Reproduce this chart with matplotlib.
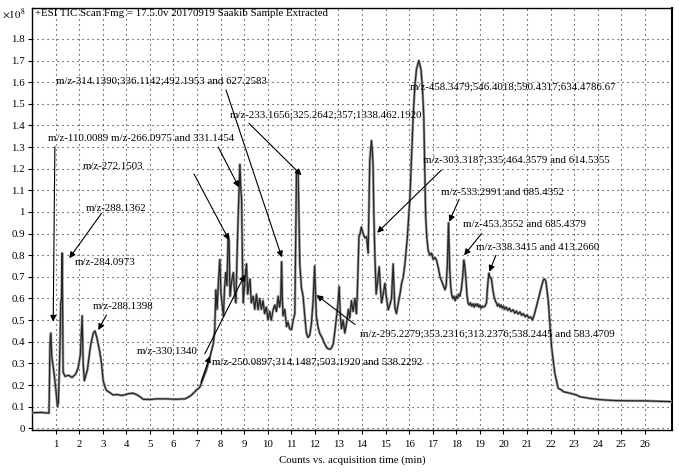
import matplotlib
matplotlib.use("Agg")
import matplotlib.pyplot as plt

plt.rcParams['font.family'] = ['Liberation Serif', 'DejaVu Serif']
plt.rcParams['mathtext.fontset'] = 'stix'

# TIC trace (time in min, counts in units of 1e8)
time_min = [0.00, 0.40, 0.72, 0.74, 0.76, 0.80, 0.84, 0.88, 0.95, 1.02, 1.08, 1.12, 1.18, 1.22, 1.25,
            1.28, 1.30, 1.32, 1.40, 1.55, 1.70, 1.85, 1.96, 2.05, 2.10, 2.13, 2.17, 2.22, 2.35, 2.48,
            2.60, 2.67, 2.75, 2.88, 2.95, 3.02, 3.10, 3.16, 3.30, 3.44, 3.60, 3.80, 3.95, 4.10, 4.29,
            4.45, 4.58, 4.72, 5.00, 5.30, 5.70, 6.10, 6.49, 6.65, 6.77, 6.98, 7.12, 7.19, 7.40, 7.55,
            7.69, 7.75, 7.80, 7.85, 7.92, 7.97, 8.02, 8.06, 8.12, 8.17, 8.22, 8.27, 8.32, 8.36, 8.40,
            8.47, 8.54, 8.60, 8.65, 8.70, 8.75, 8.80, 8.82, 8.86, 8.89, 8.93, 8.96, 9.02, 9.06, 9.10,
            9.15, 9.20, 9.25, 9.30, 9.38, 9.45, 9.52, 9.59, 9.66, 9.73, 9.80, 9.87, 9.94, 10.01, 10.08,
            10.15, 10.23, 10.30, 10.37, 10.44, 10.50, 10.55, 10.59, 10.62, 10.65, 10.72, 10.80, 10.86,
            10.93, 11.01, 11.08, 11.15, 11.19, 11.22, 11.29, 11.33, 11.36, 11.43, 11.50, 11.57, 11.64,
            11.71, 11.78, 11.85, 11.92, 11.99, 12.03, 12.06, 12.13, 12.20, 12.30, 12.42, 12.52, 12.63,
            12.70, 12.78, 12.85, 12.92, 12.98, 13.03, 13.08, 13.13, 13.20, 13.27, 13.35, 13.42, 13.48,
            13.55, 13.62, 13.70, 13.76, 13.80, 13.87, 13.92, 13.97, 14.05, 14.12, 14.19, 14.26, 14.30,
            14.33, 14.40, 14.44, 14.47, 14.50, 14.54, 14.60, 14.66, 14.73, 14.78, 14.83, 14.90, 14.97,
            15.04, 15.11, 15.18, 15.25, 15.32, 15.36, 15.39, 15.46, 15.54, 15.61, 15.68, 15.75, 15.82,
            15.92, 16.03, 16.10, 16.17, 16.24, 16.31, 16.41, 16.50, 16.56, 16.62, 16.66, 16.70, 16.75,
            16.81, 16.88, 16.95, 17.02, 17.09, 17.16, 17.24, 17.31, 17.38, 17.45, 17.52, 17.57, 17.62,
            17.67, 17.72, 17.76, 17.80, 17.85, 17.90, 17.95, 18.00, 18.05, 18.10, 18.15, 18.21, 18.27,
            18.32, 18.36, 18.40, 18.45, 18.50, 18.55, 18.60, 18.65, 18.70, 18.75, 18.80, 18.85, 18.90,
            18.95, 19.00, 19.05, 19.10, 19.14, 19.22, 19.28, 19.33, 19.38, 19.43, 19.49, 19.55, 19.60,
            19.65, 19.70, 19.75, 19.80, 19.85, 19.90, 19.95, 20.00, 20.05, 20.12, 20.18, 20.25, 20.32,
            20.41, 20.48, 20.55, 20.62, 20.70, 20.77, 20.84, 20.92, 21.00, 21.07, 21.15, 21.23, 21.32,
            21.47, 21.60, 21.69, 21.75, 21.80, 21.90, 22.04, 22.18, 22.32, 22.46, 22.55, 22.82, 23.10,
            23.24, 23.60, 23.95, 24.40, 24.80, 25.40, 25.93, 26.50, 27.13]
tic_e8 = [0.072, 0.073, 0.070, 0.20, 0.38, 0.44, 0.33, 0.30, 0.24, 0.17, 0.10, 0.12, 0.35, 0.58, 0.60,
          0.81, 0.55, 0.26, 0.24, 0.245, 0.235, 0.25, 0.28, 0.34, 0.45, 0.52, 0.30, 0.22, 0.27, 0.38,
          0.44, 0.45, 0.42, 0.35, 0.30, 0.22, 0.19, 0.175, 0.165, 0.154, 0.156, 0.152, 0.155, 0.160, 0.162,
          0.155, 0.146, 0.134, 0.133, 0.136, 0.136, 0.134, 0.136, 0.145, 0.154, 0.177, 0.19, 0.21, 0.27, 0.33,
          0.39, 0.45, 0.64, 0.55, 0.70, 0.78, 0.62, 0.58, 0.52, 0.65, 0.72, 0.66, 0.89, 0.87, 0.61,
          0.68, 0.72, 0.63, 0.58, 0.80, 0.99, 1.15, 1.22, 1.10, 1.07, 0.75, 0.58, 0.66, 0.72, 0.76,
          0.62, 0.66, 0.69, 0.58, 0.61, 0.55, 0.62, 0.548, 0.60, 0.55, 0.59, 0.53, 0.56, 0.50, 0.54,
          0.50, 0.548, 0.57, 0.54, 0.61, 0.56, 0.60, 0.77, 0.60, 0.52, 0.55, 0.47, 0.49,
          0.46, 0.455, 0.50, 0.53, 0.90, 1.19, 1.19, 0.95, 0.76, 0.65, 0.61, 0.52, 0.44,
          0.42, 0.43, 0.48, 0.58, 0.75, 0.62, 0.52, 0.47, 0.44, 0.42, 0.39, 0.37, 0.365,
          0.37, 0.39, 0.45, 0.516, 0.58, 0.655, 0.52, 0.46, 0.50, 0.44, 0.49, 0.55, 0.51,
          0.59, 0.54, 0.60, 0.53, 0.62, 0.886, 0.90, 0.93, 0.90, 0.88, 0.886, 0.81, 1.05,
          1.24, 1.33, 1.28, 1.21, 1.00, 0.82, 0.62, 0.68, 0.747, 0.65, 0.58, 0.62, 0.67,
          0.60, 0.548, 0.57, 0.60, 0.76, 0.64, 0.56, 0.53, 0.58, 0.62, 0.67, 0.70, 0.76,
          0.88, 1.06, 1.25, 1.44, 1.58, 1.66, 1.70, 1.66, 1.58, 1.44, 1.20, 0.98, 0.88,
          0.82, 0.80, 0.81, 0.78, 0.79, 0.778, 0.74, 0.70, 0.68, 0.66, 0.64, 0.66, 0.76,
          0.95, 0.74, 0.66, 0.62, 0.60, 0.61, 0.59, 0.61, 0.60, 0.62, 0.61, 0.64, 0.70,
          0.778, 0.75, 0.70, 0.62, 0.578, 0.57, 0.58, 0.565, 0.575, 0.56, 0.575, 0.565, 0.575,
          0.56, 0.57, 0.555, 0.565, 0.56, 0.565, 0.58, 0.66, 0.717, 0.70, 0.69, 0.64, 0.61,
          0.59, 0.58, 0.565, 0.575, 0.56, 0.57, 0.555, 0.565, 0.55, 0.56, 0.545, 0.555, 0.54,
          0.548, 0.532, 0.542, 0.528, 0.538, 0.522, 0.53, 0.515, 0.525, 0.51, 0.515, 0.50, 0.53,
          0.593, 0.65, 0.686, 0.69, 0.68, 0.59, 0.377, 0.254, 0.185, 0.177, 0.169, 0.162, 0.154,
          0.146, 0.139, 0.134, 0.130, 0.128, 0.127, 0.127, 0.125, 0.123]

x_ticks = list(range(1, 27))
y_ticks = [0, 0.1, 0.2, 0.3, 0.4, 0.5, 0.6, 0.7, 0.8, 0.9, 1.0, 1.1, 1.2, 1.3, 1.4, 1.5, 1.6, 1.7, 1.8]
y_tick_labels = ['0', '0.1', '0.2', '0.3', '0.4', '0.5', '0.6', '0.7', '0.8', '0.9', '1',
                 '1.1', '1.2', '1.3', '1.4', '1.5', '1.6', '1.7', '1.8']

# annotation texts: (label, text position, arrow start or None, arrow target or None)
annotations = [
    ("m/z-314.1390;336.1142;492.1953 and 627.2583", (1.01, 1.605), (8.23, 1.564), (10.60, 0.79)),
    ("m/z-233.1656;325.2642;357;1338.462.1920", (8.38, 1.448), (9.20, 1.41), (11.43, 1.17)),
    ("m/z-110.0089 m/z-266.0975 and 331.1454", (0.69, 1.340), (7.90, 1.30), (8.78, 1.114)),
    ("m/z-272.1503", (2.14, 1.209), (6.87, 1.176), (8.36, 0.87)),
    ("m/z-288.1362", (2.30, 1.017), (2.95, 0.994), (1.58, 0.786)),
    ("m/z-284.0973", (1.81, 0.766), None, None),
    ("m/z-288.1398", (2.56, 0.562), (3.16, 0.524), (2.81, 0.454)),
    ("m/z-330.1340", (4.44, 0.357), (7.33, 0.344), (9.03, 0.71)),
    ("m/z-250.0897;314.1487;503.1920 and 538.2292", (7.62, 0.308), (7.17, 0.214), (7.55, 0.334)),
    ("m/z-295.2279;353.2316;313.2376;538.2445 and 583.4709", (13.91, 0.436), (13.70, 0.48), (12.07, 0.616)),
    ("m/z-458.3479;546.4018;590.4317;634.4786.67", (16.02, 1.577), None, None),
    ("m/z-303.3187;335;464.3579 and 614.5355", (16.59, 1.240), (17.37, 1.194), (14.64, 0.904)),
    ("m/z-533.2991 and 685.4352", (17.36, 1.091), (18.12, 1.059), (17.70, 0.955)),
    ("m/z-453.3552 and 685.4379", (18.28, 0.940), (19.07, 0.90), (18.33, 0.80)),
    ("m/z-338.3415 and 413.2660", (18.85, 0.835), (19.68, 0.80), (19.40, 0.724)),
]
side_arrow = ((0.97, 1.302), (0.90, 0.493))

fig = plt.figure(figsize=(6.79, 4.73), dpi=100)
ax = fig.add_axes([32 / 679, 43 / 473, 640 / 679, 422 / 473])

ax.plot(time_min, tic_e8, color='#a0a0a0', lw=1.9, zorder=3)
ax.plot(time_min, tic_e8, color='#262626', lw=0.9, zorder=4)

ax.set_xlim(0, 27.15)
ax.set_ylim(-0.008, 1.943)
ax.set_xticks(x_ticks)
ax.set_yticks(y_ticks)
ax.set_yticklabels(y_tick_labels)
ax.tick_params(axis='both', labelsize=7.8, length=3, width=0.8, direction='out', pad=2)
ax.tick_params(axis='x', pad=4)
ax.grid(True, color='#222222', linestyle=(0, (1, 3.5)), linewidth=0.8)
for s in ax.spines.values():
    s.set_linewidth(1.0)
ax.spines['right'].set_linewidth(1.5)

ax.set_xlabel('Counts vs. acquisition time (min)', fontsize=7.8, labelpad=5)

ax.text(3 / 640, (430 - 14) / 422, '+ESI TIC Scan Fmg = 17.5.0v 20170919 Saakib Sample Extracted',
        transform=ax.transAxes, fontsize=7.8, va='center', ha='left')
fig.text(2 / 679, 1 - 14 / 473, r'$\times10^{8}$', fontsize=7.8, va='center', ha='left')

arrow_kw = dict(arrowstyle='-|>', color='black', lw=0.8, mutation_scale=9, shrinkA=0, shrinkB=0)
for label, tpos, astart, aend in annotations:
    ax.text(tpos[0], tpos[1], label, fontsize=7.8, va='center', ha='left', zorder=6)
    if astart is not None:
        ax.annotate('', xy=aend, xytext=astart, arrowprops=arrow_kw, zorder=7)
ax.annotate('', xy=side_arrow[1], xytext=side_arrow[0], arrowprops=arrow_kw, zorder=7)

fig.savefig('out.png', dpi=100)
